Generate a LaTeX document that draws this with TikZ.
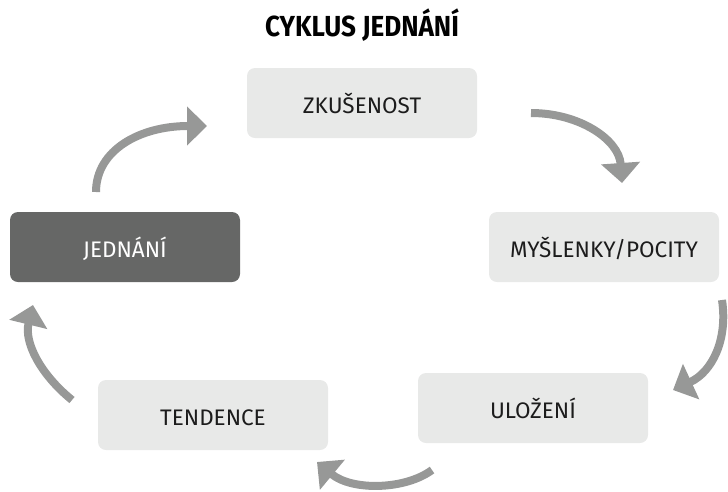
\documentclass[tikz,border=0pt]{standalone}
\usepackage{fontspec}
\setmainfont{Fira Sans}
\newfontfamily\titlefont{Fira Sans}[FakeStretch=0.9]
\usetikzlibrary{arrows.meta}
\definecolor{boxgray}{HTML}{E8E9E8}
\definecolor{actgray}{HTML}{666766}
\definecolor{arrgray}{HTML}{979897}
\definecolor{textblack}{HTML}{1C1C1C}

\begin{document}
\begin{tikzpicture}[x=1pt, y=-1pt,
	box/.style={rectangle, rounded corners=8pt, fill=boxgray, minimum width=230pt, minimum height=70pt, text height=21.5pt, text depth=0pt, font=\fontsize{22.5}{27}\selectfont, text=textblack},
	act/.style={box, fill=actgray, text=white},
	arr/.style={line width=8pt, draw=arrgray, -{Triangle[length=20pt, width=38pt]}}]
			\clip (0,0) rectangle (728,491);
			\node[font=\titlefont\bfseries\fontsize{29}{34}\selectfont] (title) at (362,25) {CYKLUS JEDNÁNÍ};
			\node[box] (zkusenost) at (362,103) {ZKUŠENOST};
			\node[box] (myslenky) at (604,247) {MYŠLENKY/POCITY};
			\node[act] (jednani) at (125,247) {JEDNÁNÍ};
			\node[box] (ulozeni) at (533,408) {ULOŽENÍ};
			\node[box] (tendence) at (213,415) {TENDENCE};
			\coordinate (a1) at (96,192);
			\coordinate (b1) at (207,126);
			\coordinate (a2) at (531,113);
			\coordinate (b2) at (622,183);
			\coordinate (a3) at (722,300);
			\coordinate (b3) at (673,390);
			\coordinate (a4) at (432,470);
			\coordinate (b4) at (317,462);
			\coordinate (a5) at (72,400);
			\coordinate (b5) at (33,305);
			\draw[arr] (a1) .. controls (96,150) and (140,126) .. (b1);
			\draw[arr] (a2) .. controls (580,113) and (619,140) .. (b2);
			\draw[arr] (a3) .. controls (728,340) and (712,372) .. (b3);
			\draw[arr] (a4) .. controls (405,490) and (352,491) .. (b4);
			\draw[arr] (a5) .. controls (40,374) and (24,342) .. (b5);
		\end{tikzpicture}
\end{document}
